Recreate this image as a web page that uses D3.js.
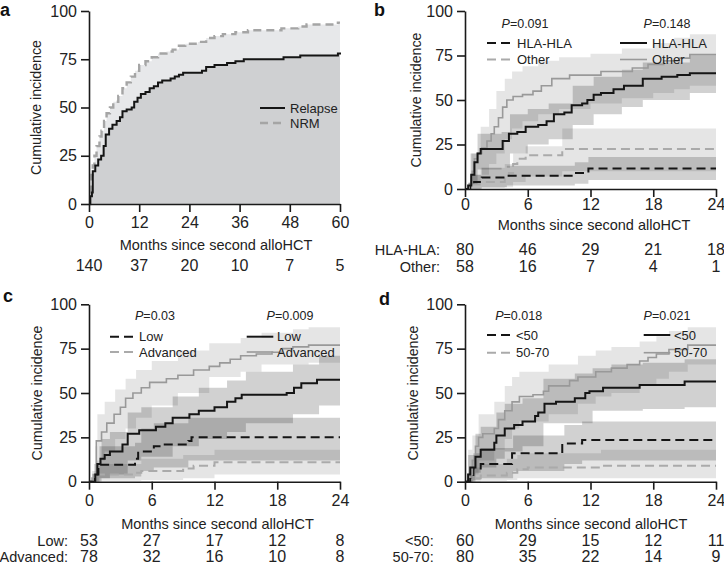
<!DOCTYPE html>
<html>
<head>
<meta charset="utf-8">
<script src="https://d3js.org/d3.v7.min.js"></script>
<style>
  html, body { margin: 0; padding: 0; background: #fff; }
  svg { display: block; font-family: 'Liberation Sans', Arial, Helvetica, sans-serif; }
</style>
<title>Cumulative incidence after second alloHCT</title>
</head>
<body>
<script>
// ---- data: [month, %] step points, bands are [month, lower, upper] ----
var months60 = [0, 12, 24, 36, 48, 60];
var months24 = [0, 6, 12, 18, 24];
var yTicks = [0, 25, 50, 75, 100];

// panel a
var aRelapse = [[0,0],[0.3,4],[0.7,6],[0.9,17],[1.5,20],[2.2,23],[2.9,25],[3.5,30],[4,36],[4.8,39],[5.6,41],[6.6,43],[7.4,45],[8,48],[9,49],[10.2,50],[10.8,53],[11.6,55],[12.4,57],[13.5,58],[14.5,60],[15.5,61],[16.5,63],[17.5,64],[19.5,65],[20.5,66],[21.5,67],[22.5,68],[27,69],[28,71],[30,72],[33,73],[35,74],[37,75],[46.5,76],[50.5,77],[59.5,78],[60,78.5]];
var aNRM = [[0,0],[0.3,5],[0.6,15],[0.9,20],[1.3,25],[1.8,30],[2.5,35],[3,38],[3.6,43],[4.2,47],[5,50],[5.8,53],[7,56],[8,60],[9,63],[10,66],[11,69],[12,72],[13.5,74],[15,76],[16.5,78],[18.5,79],[20,80],[21.5,82],[23,83],[26,84],[28,86],[30,87],[32,88],[35,89],[38,90],[46,91],[50,92],[52,93],[59.5,94],[60,94]];
var aRisk = [140, 37, 20, 10, 7, 5];

// panel b
var bHlaRelapse = [[0,0],[0.3,2],[0.6,8],[0.9,15],[1.2,20],[1.5,22.5],[3.6,27],[4.2,31],[5,32],[5.8,35],[7,36],[7.8,38],[8.5,42],[9.5,43],[10.2,47],[11.2,48],[11.7,50],[12.3,53],[13,54],[14.2,56],[15.2,58],[17,62],[18.8,63],[20.3,64],[21.5,65],[24,65]];
var bOtherRelapse = [[0,0],[0.4,3],[0.7,10],[0.9,17],[1.2,20],[1.6,23],[2.1,27],[2.5,31],[2.8,35],[3.2,40],[3.6,46],[4,50],[4.6,52],[5.5,53],[6.5,55],[7.3,58],[8.3,62],[10,64],[13,66],[16,68],[17.5,70],[19,72],[20.5,73.5],[21.5,75.5],[24,75.5]];
var bHlaNRM = [[0,0],[0.5,3],[0.8,4],[1.6,6.5],[4,7.5],[10.5,9],[11.8,11.5],[24,11.5]];
var bOtherNRM = [[0,0],[0.5,2],[0.8,4],[3.8,6],[4.2,9],[4.6,14],[5,17],[5.8,19],[9.3,22.5],[24,22.5]];
var bHlaRelapseCI = [[0.6,3,20],[1.2,11,31],[3.5,12,32],[4.3,20,42],[6,25,45],[8,28,48],[10.3,36,58],[12.3,42,63],[15,46,67],[17,50,71],[21.5,54,75],[24,54,75]];
var bOtherRelapseCI = [[0.5,2,20],[1.5,8,35],[2.3,14,45],[3,20,55],[3.8,28,62],[4.5,34,66],[5.5,38,69],[7,42,72],[9,45,74],[12,48,76],[15,51,79],[18,54,82],[20,56,85],[21.5,58,87],[24,58,87]];
var bHlaNRMCI = [[0.5,0,8],[1.6,1,12],[4,2,13],[10.5,3,15],[11.8,5,18],[24,5,18]];
var bOtherNRMCI = [[0.5,0,8],[1.5,0.5,12],[3.8,1,14],[4.6,4,20],[5.8,7,24],[9.3,10,34],[24,10,34]];
var bRiskHla = [80, 46, 29, 21, 18];
var bRiskOther = [58, 16, 7, 4, 1];

// panel c
var cLowRelapse = [[0,0],[0.6,4],[0.8,10],[1.1,13],[1.5,15],[2,17],[3.2,21],[3.7,27],[4.8,29],[6.4,31],[7.3,33],[8,36],[9.6,38],[10.5,40],[12,42],[13.2,45],[14,47],[14.6,49],[18.9,50],[19.6,53],[20.3,55.5],[21.8,57.5],[24,57.5]];
var cAdvRelapse = [[0,0],[0.4,4],[0.7,23],[1.2,28],[1.7,33],[2.4,38],[3,42],[3.5,47],[4.2,50],[5,53],[5.8,56],[7.4,58],[8.5,60],[10,63],[11.5,65],[12.5,67],[13.5,69],[14.5,71],[16,72],[17.5,73],[18.5,75],[19.5,76],[21,77],[24,77]];
var cLowNRM = [[0,0],[0.5,4],[0.9,9.5],[4.4,13],[4.7,17],[6.2,20],[7,21],[9.5,23],[9.8,25],[24,25]];
var cAdvNRM = [[0,0],[0.3,2],[0.8,4],[4.5,5],[5,6],[9,7.5],[10,9],[12,11],[24,11]];
var cLowRelapseCI = [[0.7,0,12],[1.2,2,24],[2,4,28],[3.7,12,39],[5,14,42],[8,20,48],[10.5,24,53],[13.2,28,57],[15,33,62],[19.5,38,66],[22,43,71],[24,43,71]];
var cAdvRelapseCI = [[0.6,0,20],[0.8,12,38],[1.5,17,45],[2.5,24,52],[3.5,30,58],[4.5,36,63],[6,43,68],[8.5,50,74],[11.5,59,78],[14.5,62,81],[16.5,66,84],[19.5,66,86],[21,67,87],[24,67,87]];
var cLowNRMCI = [[0.5,0,10],[1,2,20],[4.4,3,22],[5,6,30],[6.2,8,33],[9.5,12,36],[24,13,37]];
var cAdvNRMCI = [[0.3,0,6],[1,0.5,10],[5,1,13],[9,2,15],[12,4,18],[24,4,18]];
var cRiskLow = [53, 27, 17, 12, 8];
var cRiskAdv = [78, 32, 16, 10, 8];

// panel d
var dU50Relapse = [[0,0],[0.3,4],[0.5,8],[1,14],[1.5,18],[2.8,22],[3,26],[3.8,30],[4.7,32],[5.5,34],[6.7,37],[7,39],[7.6,44],[8.7,45],[10.5,47],[11.5,50],[11.9,51],[13.2,53],[16.7,54.5],[21,56.5],[24,56.5]];
var d5070Relapse = [[0,0],[0.3,4],[0.7,12],[1,20],[1.3,25],[1.7,27],[2.8,30],[3.2,35],[3.8,40],[4.5,45],[5.2,48],[6.5,49],[7.5,51],[8,54],[10,57],[10.8,59],[12.5,62],[14,64],[15.5,66],[16.7,68],[17.5,70],[18.3,72],[19.5,74.5],[21.3,77],[24,77]];
var dU50NRM = [[0,0],[0.5,3],[0.8,7.5],[1.5,10],[4.5,16],[9.3,21.5],[11.2,23.5],[24,23.5]];
var d5070NRM = [[0,0],[0.3,1],[0.6,2],[1.5,3.5],[4,5],[5,7],[6,8],[13,9],[24,9]];
var dU50RelapseCI = [[0.3,0,15],[1,5,27],[1.5,8,31],[3,13,39],[3.8,17,44],[5.5,20,47],[7.5,33,58],[10.5,33,61],[12.2,40,64],[14,40,66],[17,41,67],[21,42,69],[24,42,69]];
var d5070RelapseCI = [[0.3,0,18],[0.7,4,26],[1.3,12,38],[2.8,18,45],[3.8,24,54],[4.5,30,59],[5.2,34,62],[8,38,66],[10.8,44,71],[12.5,48,74],[14,50,76],[16.7,54,79],[18.3,58,82],[19.5,62,85],[21.3,66,87],[24,66,87]];
var dU50NRMCI = [[0.5,0,8],[0.8,1,16],[1.5,2,19],[4.6,6,26],[9.5,10,32],[11.2,12,34],[24,12,34]];
var d5070NRMCI = [[0.3,0,5],[0.6,0,8],[1.5,0.5,10],[4,1,13],[5,2,15],[6,2,16],[13,2,18],[24,2,18]];
var dRiskU50 = [60, 29, 15, 12, 11];
var dRisk5070 = [80, 35, 22, 14, 9];

// ---- styles ----
var solidBlack = {color: "#151515", width: 2, dash: null};
var solidGray = {color: "#999", width: 1.6, dash: null};
var dashBlack = {color: "#151515", width: 2, dash: "9,5"};
var dashGray = {color: "#aaa", width: 2, dash: "9,5"};
var lightBand = "rgba(0,0,0,0.10)";
var medBand = "rgba(0,0,0,0.18)";

var svg = d3.select("body").append("svg").attr("width", 724).attr("height", 567);

function drawPanel(p) {
    var g = svg.append("g");
    var x = d3.scaleLinear().domain([0, p.xMax]).range(p.xRange);
    var y = d3.scaleLinear().domain([0, 100]).range(p.yRange);
    var line = d3.line().curve(d3.curveStepAfter).x(function(d) { return x(d[0]); }).y(function(d) { return y(d[1]); });
    var band = d3.area().curve(d3.curveStepAfter).x(function(d) { return x(d[0]); })
        .y0(function(d) { return y(d[1]); }).y1(function(d) { return y(d[2]); });
    var under = d3.area().curve(d3.curveStepAfter).x(function(d) { return x(d[0]); })
        .y0(y(0)).y1(function(d) { return y(d[1]); });

    (p.fills || []).forEach(function(f) {
        g.append("path").datum(f.data).attr("d", under).attr("fill", f.color);
    });
    (p.bands || []).forEach(function(b) {
        g.append("path").datum(b.data).attr("d", band).attr("fill", b.color);
    });
    p.curves.forEach(function(c) {
        g.append("path").datum(c.data).attr("d", line).attr("fill", "none")
            .attr("stroke", c.style.color).attr("stroke-width", c.style.width)
            .attr("stroke-dasharray", c.style.dash);
    });

    // axes
    var xa = g.append("g").attr("transform", "translate(0," + y(0) + ")")
        .call(d3.axisBottom(x).tickValues(p.xTicks).tickSize(8).tickSizeOuter(0).tickPadding(p.xPad));
    var ya = g.append("g").attr("transform", "translate(" + x(0) + ",0)")
        .call(d3.axisLeft(y).tickValues(yTicks).tickSize(8).tickSizeOuter(0).tickPadding(4));
    [xa, ya].forEach(function(a) {
        a.attr("font-family", null).attr("font-size", 16);
        a.select(".domain").attr("stroke", "#1a1a1a").attr("stroke-width", 1.6);
        a.selectAll(".tick line").attr("stroke", "#1a1a1a").attr("stroke-width", 1.6);
        a.selectAll(".tick text").attr("fill", "#222");
    });

    // titles
    g.append("text").attr("transform", "translate(" + p.yTitleX + "," + ((p.yRange[0] + p.yRange[1]) / 2) + ") rotate(-90)")
        .attr("text-anchor", "middle").attr("dy", "0.35em").attr("font-size", 14.2).attr("fill", "#222")
        .text("Cumulative incidence");
    g.append("text").attr("x", p.xTitleX).attr("y", p.xTitleY).attr("text-anchor", "middle")
        .attr("font-size", 14.5).attr("fill", "#222").text("Months since second alloHCT");
    g.append("text").attr("x", p.letterPos[0]).attr("y", p.letterPos[1]).attr("font-size", 18)
        .attr("font-weight", "bold").attr("fill", "#111").text(p.letter);

    // p values
    (p.pvals || []).forEach(function(v) {
        var t = g.append("text").attr("x", v.x).attr("y", v.y).attr("text-anchor", "middle")
            .attr("font-size", 12.5).attr("fill", "#222");
        t.append("tspan").attr("font-style", "italic").text("P");
        t.append("tspan").text("=" + v.text);
    });

    // legends
    p.legend.forEach(function(l) {
        g.append("line").attr("x1", l.x1).attr("x2", l.x2).attr("y1", l.y).attr("y2", l.y)
            .attr("stroke", l.style.color).attr("stroke-width", l.style.width)
            .attr("stroke-dasharray", l.style.dash);
        g.append("text").attr("x", l.tx).attr("y", l.y).attr("dy", "0.35em")
            .attr("font-size", 13).attr("fill", "#222").text(l.label);
    });

    // numbers at risk
    p.risk.forEach(function(r) {
        if (r.label) {
            g.append("text").attr("x", p.riskLabelX).attr("y", r.y).attr("text-anchor", "end")
                .attr("font-size", 14.5).attr("fill", "#222").text(r.label);
        }
        r.values.forEach(function(v, i) {
            g.append("text").attr("x", x(p.xTicks[i])).attr("y", r.y).attr("text-anchor", "middle")
                .attr("font-size", 16).attr("fill", "#222").text(v);
        });
    });
}

drawPanel({
    letter: "a", letterPos: [0, 16],
    xMax: 60, xTicks: months60, xRange: [89, 340], yRange: [204, 11], xPad: 5,
    yTitleX: 36, xTitleX: 216, xTitleY: 250,
    fills: [{data: aNRM, color: "#e7e8ea"}, {data: aRelapse, color: "#cfd0d2"}],
    curves: [{data: aNRM, style: {color: "#a5a5a5", width: 2.4, dash: "8,5"}}, {data: aRelapse, style: solidBlack}],
    legend: [
        {x1: 260, x2: 285, y: 108, tx: 290, label: "Relapse", style: solidBlack},
        {x1: 260, x2: 285, y: 123, tx: 290, label: "NRM", style: {color: "#a5a5a5", width: 2.4, dash: "8,5"}}
    ],
    riskLabelX: 0,
    risk: [{label: null, y: 271, values: aRisk}]
});

drawPanel({
    letter: "b", letterPos: [374, 16],
    xMax: 24, xTicks: months24, xRange: [465, 716], yRange: [189, 11], xPad: 2,
    yTitleX: 416, xTitleX: 594, xTitleY: 230,
    bands: [
        {data: bOtherRelapseCI, color: lightBand}, {data: bOtherNRMCI, color: lightBand},
        {data: bHlaRelapseCI, color: medBand}, {data: bHlaNRMCI, color: medBand}
    ],
    curves: [
        {data: bOtherNRM, style: dashGray}, {data: bHlaNRM, style: dashBlack},
        {data: bOtherRelapse, style: solidGray}, {data: bHlaRelapse, style: solidBlack}
    ],
    pvals: [{x: 525, y: 28, text: "0.091"}, {x: 667, y: 28, text: "0.148"}],
    legend: [
        {x1: 487, x2: 514, y: 43, tx: 517, label: "HLA-HLA", style: dashBlack},
        {x1: 487, x2: 514, y: 59.5, tx: 517, label: "Other", style: dashGray},
        {x1: 620, x2: 647, y: 43, tx: 652, label: "HLA-HLA", style: solidBlack},
        {x1: 620, x2: 647, y: 59.5, tx: 652, label: "Other", style: solidGray}
    ],
    riskLabelX: 440,
    risk: [{label: "HLA-HLA:", y: 255, values: bRiskHla}, {label: "Other:", y: 271.5, values: bRiskOther}]
});

drawPanel({
    letter: "c", letterPos: [3, 302],
    xMax: 24, xTicks: months24, xRange: [89, 340], yRange: [481.7, 304.3], xPad: 5,
    yTitleX: 37.5, xTitleX: 217.5, xTitleY: 529,
    bands: [
        {data: cAdvRelapseCI, color: lightBand}, {data: cAdvNRMCI, color: lightBand},
        {data: cLowRelapseCI, color: medBand}, {data: cLowNRMCI, color: medBand}
    ],
    curves: [
        {data: cAdvNRM, style: dashGray}, {data: cLowNRM, style: dashBlack},
        {data: cAdvRelapse, style: solidGray}, {data: cLowRelapse, style: solidBlack}
    ],
    pvals: [{x: 155, y: 320, text: "0.03"}, {x: 290, y: 320, text: "0.009"}],
    legend: [
        {x1: 110, x2: 135, y: 336.7, tx: 139, label: "Low", style: dashBlack},
        {x1: 110, x2: 135, y: 352, tx: 139, label: "Advanced", style: dashGray},
        {x1: 246.7, x2: 273.3, y: 336.7, tx: 277, label: "Low", style: solidBlack},
        {x1: 246.7, x2: 273.3, y: 352, tx: 277, label: "Advanced", style: solidGray}
    ],
    riskLabelX: 68,
    risk: [{label: "Low:", y: 546, values: cRiskLow}, {label: "Advanced:", y: 562, values: cRiskAdv}]
});

drawPanel({
    letter: "d", letterPos: [379, 305],
    xMax: 24, xTicks: months24, xRange: [465, 716], yRange: [481.7, 304.3], xPad: 5,
    yTitleX: 413, xTitleX: 591, xTitleY: 529,
    bands: [
        {data: d5070RelapseCI, color: lightBand}, {data: d5070NRMCI, color: lightBand},
        {data: dU50RelapseCI, color: medBand}, {data: dU50NRMCI, color: medBand}
    ],
    curves: [
        {data: d5070NRM, style: dashGray}, {data: dU50NRM, style: dashBlack},
        {data: d5070Relapse, style: solidGray}, {data: dU50Relapse, style: solidBlack}
    ],
    pvals: [{x: 518.7, y: 320, text: "0.018"}, {x: 667, y: 320, text: "0.021"}],
    legend: [
        {x1: 487, x2: 514, y: 335, tx: 516, label: "<50", style: dashBlack},
        {x1: 487, x2: 514, y: 352.7, tx: 516, label: "50-70", style: dashGray},
        {x1: 643.7, x2: 670.3, y: 335, tx: 674, label: "<50", style: solidBlack},
        {x1: 643.7, x2: 670.3, y: 352.7, tx: 674, label: "50-70", style: solidGray}
    ],
    riskLabelX: 433.7,
    risk: [{label: "<50:", y: 546, values: dRiskU50}, {label: "50-70:", y: 562, values: dRisk5070}]
});
</script>
</body>
</html>
